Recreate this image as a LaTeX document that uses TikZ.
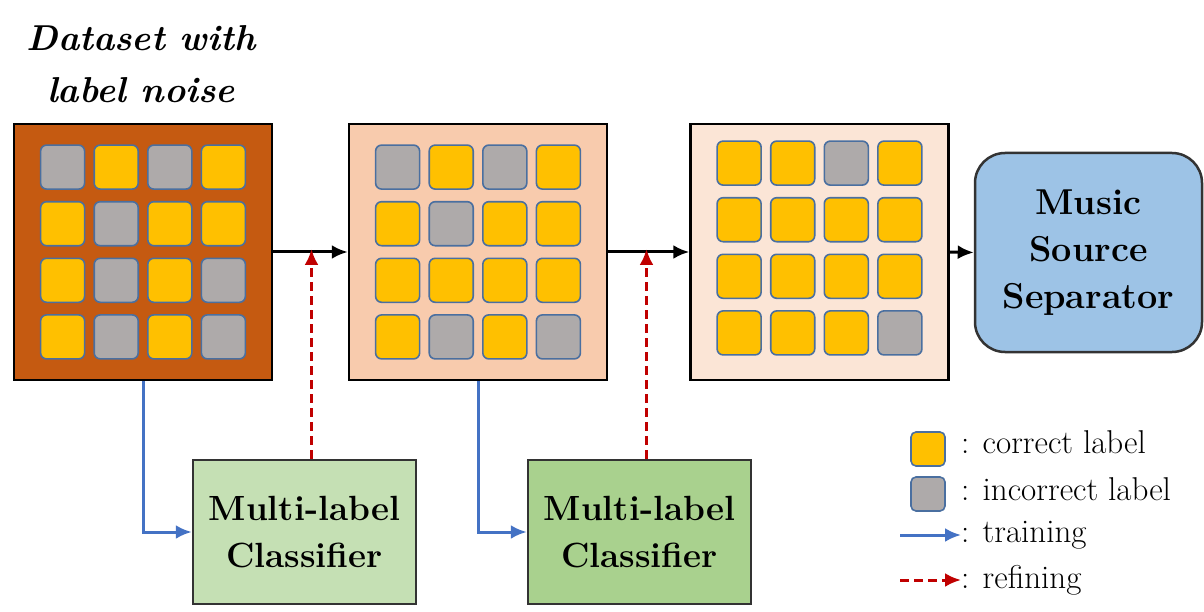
\documentclass[tikz,border=0pt]{standalone}
\usetikzlibrary{matrix,positioning,arrows.meta}
\definecolor{noisy}{HTML}{C55A11}
\definecolor{mid}{HTML}{F8CBAD}
\definecolor{clean}{HTML}{FBE5D6}
\definecolor{corr}{HTML}{FFC000}
\definecolor{incorr}{HTML}{AEAAAA}
\definecolor{tileline}{HTML}{4A6FA0}
\definecolor{clfA}{HTML}{C5E0B4}
\definecolor{clfB}{HTML}{A9D18E}
\definecolor{sep}{HTML}{9DC3E6}
\definecolor{trainblue}{HTML}{4472C4}
\definecolor{refred}{HTML}{C00000}

\begin{document}
\begin{tikzpicture}[x=1pt, y=-1pt,
    databox/.style={draw, line width=2.5pt, minimum width=258pt, minimum height=256pt},
    clf/.style={draw=black!80, line width=2.5pt, minimum width=223pt, minimum height=144pt,
        align=center, font=\fontsize{35}{47}\selectfont\bfseries},
    grid/.style={matrix of nodes, nodes in empty cells,
        nodes={minimum size=44pt, inner sep=0, rounded corners=6pt, draw=tileline, line width=1.6pt},
        column sep=8pt, row sep=11pt},
    cr/.style={fill=corr},
    ic/.style={fill=incorr},
    flow/.style={-{Latex[length=16pt,width=14pt]}, line width=3pt},
    train/.style={-{Latex[length=16pt,width=14pt]}, draw=trainblue, line width=3pt},
    refine/.style={-{Latex[length=16pt,width=14pt]}, draw=refred, line width=3pt, dash pattern=on 9pt off 5pt},
    legtxt/.style={anchor=west, inner sep=0, font=\fontsize{33}{38}\selectfont}
  ]
  \useasboundingbox (0,0) rectangle (1204,612);

  % title
  \node[align=center, font=\fontsize{36}{52}\selectfont\bfseries\itshape] (T) at (141,64) {Dataset with\\label noise};

  % datasets
  \node[databox, fill=noisy] (D1) at (143,252) {};
  \node[databox, fill=mid]   (D2) at (478,252) {};
  \node[databox, fill=clean] (D3) at (819.5,252) {};

  \matrix (M1) at (D1) [grid]
  {
    |[ic]| & |[cr]| & |[ic]| & |[cr]| \\
    |[cr]| & |[ic]| & |[cr]| & |[cr]| \\
    |[cr]| & |[ic]| & |[cr]| & |[ic]| \\
    |[cr]| & |[ic]| & |[cr]| & |[ic]| \\
  };
  \matrix (M2) at (D2) [grid]
  {
    |[ic]| & |[cr]| & |[ic]| & |[cr]| \\
    |[cr]| & |[ic]| & |[cr]| & |[cr]| \\
    |[cr]| & |[cr]| & |[cr]| & |[cr]| \\
    |[cr]| & |[ic]| & |[cr]| & |[ic]| \\
  };
  \matrix (M3) at ([yshift=4pt]D3.center) [grid]
  {
    |[cr]| & |[cr]| & |[ic]| & |[cr]| \\
    |[cr]| & |[cr]| & |[cr]| & |[cr]| \\
    |[cr]| & |[cr]| & |[cr]| & |[cr]| \\
    |[cr]| & |[cr]| & |[cr]| & |[ic]| \\
  };

  % separator and classifiers
  \node[draw=black!80, line width=2.5pt, fill=sep, rounded corners=30pt, minimum width=227pt,
    minimum height=199pt, align=center, font=\fontsize{36}{47}\selectfont\bfseries] (S) at (1088.5,252.5) {Music\\Source\\Separator};
  \node[clf, fill=clfA] (C1) at (304.5,532) {Multi-label\\Classifier};
  \node[clf, fill=clfB] (C2) at (639.5,532) {Multi-label\\Classifier};

  \draw[flow] (D1.east) -- (D2.west);
  \draw[flow] (D2.east) -- (D3.west);
  \draw[flow] (D3.east) -- (S.west);

  \draw[train] (D1.south) |- (C1.west);
  \draw[train] (D2.south) |- (C2.west);
  \draw[refine] ([xshift=7pt]C1.north) -- ([xshift=7pt,yshift=3pt]C1.north |- D1.east);
  \draw[refine] ([xshift=7pt]C2.north) -- ([xshift=7pt,yshift=3pt]C2.north |- D2.east);

  % legend
  \node[cr, draw=tileline, line width=1.6pt, rounded corners=5pt, minimum size=34pt, inner sep=0] (Lc) at (928,449) {};
  \node[ic, draw=tileline, line width=1.6pt, rounded corners=5pt, minimum size=34pt, inner sep=0] (Li) at (928,494) {};
  \node[legtxt] (Lct) at (961,442) {: correct label};
  \node[legtxt] (Lit) at (961,489) {: incorrect label};
  \node[legtxt] (Ltt) at (961,535) {: training};
  \node[legtxt] (Lrt) at (961,580) {: refining};
  \coordinate (Lt0) at (900,535);
  \coordinate (Lr0) at (900,580);
  \draw[train] (Lt0) -- (Ltt.west);
  \draw[refine] (Lr0) -- (Lrt.west);
\end{tikzpicture}
\end{document}
